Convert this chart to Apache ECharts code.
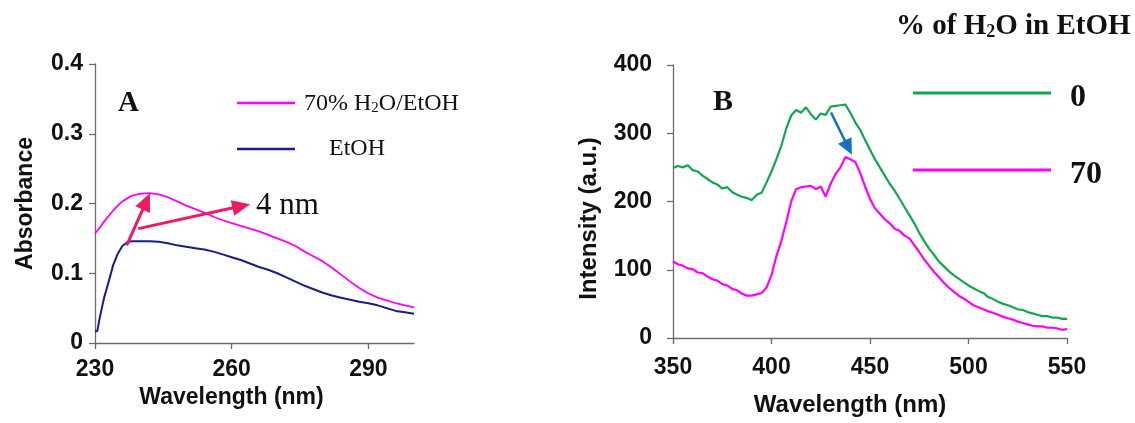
<!DOCTYPE html>
<html>
<head>
<meta charset="utf-8">
<script src="https://cdn.jsdelivr.net/npm/echarts@6/dist/echarts.min.js"></script>
<style>
html,body{margin:0;padding:0;background:#fff;}
#c{width:1135px;height:423px;}
</style>
</head>
<body>
<div id="c"></div>
<script>
// ---------- Panel A: absorbance ----------
const A_WL = [230,230.5,231,232,233,234,235,236,237,238,240,242,244,246,248,250,252,254,256,258,260,262,264,266,268,270,272,274,276,278,280,282,284,286,288,290,292,294,296,298,300];
const A_ETOH = [0.017,0.017,0.035,0.065,0.088,0.112,0.128,0.139,0.144,0.146,0.146,0.146,0.145,0.143,0.140,0.138,0.136,0.134,0.131,0.127,0.123,0.119,0.114,0.109,0.105,0.100,0.094,0.088,0.082,0.077,0.072,0.068,0.065,0.062,0.059,0.057,0.054,0.050,0.046,0.044,0.042];
const A_H2O70 = [0.157,0.161,0.165,0.174,0.182,0.190,0.197,0.203,0.207,0.211,0.214,0.215,0.213,0.209,0.203,0.197,0.192,0.187,0.181,0.176,0.172,0.168,0.164,0.160,0.155,0.150,0.145,0.139,0.131,0.124,0.117,0.108,0.098,0.088,0.079,0.071,0.065,0.061,0.057,0.054,0.051];
const A_X_TICKS = [230, 260, 290];
const A_Y_TICKS = [0, 0.1, 0.2, 0.3, 0.4];
// annotation arrows (data coordinates: start -> end)
const A_ARROWS = [[[236.95,0.140],[241.26,0.203]], [[239.5,0.164],[262.1,0.1963]]];

// ---------- Panel B: fluorescence ----------
const B_WL = [350,352.5,355,357.5,360,362.5,365,367.5,370,372.5,375,377.5,380,382.5,385,387.5,390,392.5,395,397.5,
400,402.5,405,407.5,410,412.5,415,417.5,420,422.5,425,427.5,430,432.5,435,437.5,440,442.5,445,447.5,
450,452.5,455,457.5,460,462.5,465,467.5,470,472.5,475,477.5,480,482.5,485,487.5,490,492.5,495,497.5,
500,502.5,505,507.5,510,512.5,515,517.5,520,522.5,525,527.5,530,532.5,535,537.5,540,542.5,545,547.5,550];
const B_H2O0 = [249,252,250,253,246,244,238,233,228,225,219,221,214,210,207,205,202,210,213,228,
244,262,282,307,326,334,330,338,328,320,329,327,339,340,341,342,330,316,305,290,
276,262,250,238,226,216,204,192,180,168,154,142,131,122,112,105,98,92,87,82,
77,73,69,66,60,57,53,50,48,45,42,41,38,36,34,32,32,30,30,28,28];
const B_H2O70 = [112,108,106,102,101,96,95,90,86,84,79,77,72,70,65,62,62,64,66,74,
92,120,142,170,200,218,221,222,223,218,222,207,226,240,250,265,262,258,242,222,
204,190,182,174,168,160,157,150,146,136,126,115,106,97,89,81,74,68,62,58,
53,48,45,42,39,37,34,31,29,27,24,22,20,18,17,17,15,15,14,12,13];
const B_X_TICKS = [350, 400, 450, 500, 550];
const B_Y_TICKS = [0, 100, 200, 300, 400];
const B_ARROW = [[430.2,330.3],[439.0,278.9]];

const SANS = 'Liberation Sans, Arial, sans-serif';
const SERIF = 'Liberation Serif, Times New Roman, serif';
const MAGENTA = '#ff00ff', NAVY = '#1b1b8a', GREEN = '#14a552', CRIMSON = '#ee1a62', BLUE = '#1570c2';

function pairs(xs, ys){ return xs.map((x,i)=>[x, ys[i]]); }

const chart = echarts.init(document.getElementById('c'), null, {renderer:'canvas'});

function axisCommon(){
  return {
    axisLine:{show:true, lineStyle:{color:'#6b6b6b', width:1.3}},
    axisTick:{show:true, inside:false, length:6, lineStyle:{color:'#6b6b6b', width:1.3}},
    splitLine:{show:false}
  };
}

const option = {
  animation:false,
  backgroundColor:'#fff',
  title:{
    text:'{a|% of H}{s|2}{a|O in EtOH}',
    left:896, top:11, padding:0,
    textStyle:{rich:{
      a:{fontFamily:SERIF, fontWeight:'bold', fontSize:29, color:'#111', lineHeight:30, verticalAlign:'bottom'},
      s:{fontFamily:SERIF, fontWeight:'bold', fontSize:18, color:'#111', lineHeight:14, verticalAlign:'bottom'}
    }}
  },
  grid:[
    {left:95, top:64, width:319, height:279},
    {left:673, top:65, width:394, height:273}
  ],
  xAxis:[
    Object.assign(axisCommon(), {gridIndex:0, type:'value', min:A_X_TICKS[0], max:300, interval:30,
      axisLabel:{showMaxLabel:false, margin:15, fontFamily:SANS, fontWeight:'bold', fontSize:23, color:'#111'},
      name:'Wavelength (nm)', nameLocation:'middle', nameGap:36,
      nameTextStyle:{fontFamily:SANS, fontWeight:'bold', fontSize:23, color:'#111', padding:[0,46,0,0]}}),
    Object.assign(axisCommon(), {gridIndex:1, type:'value', min:B_X_TICKS[0], max:B_X_TICKS[B_X_TICKS.length-1], interval:50,
      axisLabel:{margin:18, fontFamily:SANS, fontWeight:'bold', fontSize:23, color:'#111'},
      name:'Wavelength (nm)', nameLocation:'middle', nameGap:55,
      nameTextStyle:{fontFamily:SANS, fontWeight:'bold', fontSize:24, color:'#111', padding:[0,40,0,0]}})
  ],
  yAxis:[
    Object.assign(axisCommon(), {gridIndex:0, type:'value', min:A_Y_TICKS[0], max:A_Y_TICKS[A_Y_TICKS.length-1], interval:0.1,
      axisLabel:{margin:12, fontFamily:SANS, fontWeight:'bold', fontSize:23, color:'#111',
        formatter:v=> v===0 ? '0' : v.toFixed(1)},
      name:'Absorbance', nameLocation:'middle', nameGap:58,
      nameTextStyle:{fontFamily:SANS, fontWeight:'bold', fontSize:23, color:'#111'}}),
    Object.assign(axisCommon(), {gridIndex:1, type:'value', min:B_Y_TICKS[0], max:B_Y_TICKS[B_Y_TICKS.length-1], interval:100,
      axisLabel:{margin:21, fontFamily:SANS, fontWeight:'bold', fontSize:23, color:'#111'},
      name:'Intensity (a.u.)', nameLocation:'middle', nameGap:72,
      nameTextStyle:{fontFamily:SANS, fontWeight:'bold', fontSize:24, color:'#111', padding:[0,34,0,0]}})
  ],
  legend:[
    {
      data:['70% H2O/EtOH','EtOH'], orient:'vertical', left:237, top:92, padding:0,
      icon:'rect', itemWidth:58, itemHeight:2.5, itemGap:21, selectedMode:false,
      formatter:n => n==='EtOH' ? '{e|EtOH}' : '{p|70% H}{s|2}{n|O/EtOH}',
      textStyle:{color:'#111', rich:{
        p:{fontFamily:SERIF, fontSize:24, color:'#111', lineHeight:26, verticalAlign:'bottom', padding:[0,0,0,4]},
        n:{fontFamily:SERIF, fontSize:24, color:'#111', lineHeight:26, verticalAlign:'bottom'},
        s:{fontFamily:SERIF, fontSize:15, color:'#111', lineHeight:13, verticalAlign:'bottom'},
        e:{fontFamily:SERIF, fontSize:24, color:'#111', lineHeight:26, padding:[0,0,0,29]}
      }}
    },
    {
      data:['0','70'], orient:'vertical', left:913, top:72, padding:0,
      icon:'rect', itemWidth:138, itemHeight:3, itemGap:35, selectedMode:false,
      formatter:n => '{b|' + n + '}',
      textStyle:{color:'#111', rich:{
        b:{fontFamily:SERIF, fontWeight:'bold', fontSize:32, color:'#111', lineHeight:32, padding:[10,0,0,14]}
      }}
    }
  ],
  graphic:[
    {type:'text', left:118, top:89, style:{text:'A', font:'bold 29px '+SERIF, fill:'#111'}},
    {type:'text', left:713, top:87, style:{text:'B', font:'bold 30px '+SERIF, fill:'#111'}},
    {type:'text', left:256, top:190, style:{text:'4 nm', font:'31px '+SERIF, fill:'#111'}}
  ],
  series:[
    {name:'70% H2O/EtOH', type:'line', xAxisIndex:0, yAxisIndex:0, data:pairs(A_WL, A_H2O70),
      symbol:'none', showSymbol:false, color:MAGENTA, lineStyle:{color:MAGENTA, width:1.8}, z:3,
      markLine:{silent:true, animation:false, symbol:['none','triangle'], symbolSize:[16,18],
        lineStyle:{color:CRIMSON, width:3, type:'solid'}, label:{show:false},
        data:A_ARROWS.map(a=>[{coord:a[0]},{coord:a[1]}])}},
    {name:'EtOH', type:'line', xAxisIndex:0, yAxisIndex:0, data:pairs(A_WL, A_ETOH),
      symbol:'none', showSymbol:false, color:NAVY, lineStyle:{color:NAVY, width:2}, z:2},
    {name:'0', type:'line', xAxisIndex:1, yAxisIndex:1, data:pairs(B_WL, B_H2O0),
      symbol:'none', showSymbol:false, color:GREEN, lineStyle:{color:GREEN, width:2.2}, z:2,
      markLine:{silent:true, animation:false, symbol:['none','triangle'], symbolSize:[15,16],
        lineStyle:{color:BLUE, width:2.5, type:'solid'}, label:{show:false},
        data:[[{coord:B_ARROW[0]},{coord:B_ARROW[1]}]]}},
    {name:'70', type:'line', xAxisIndex:1, yAxisIndex:1, data:pairs(B_WL, B_H2O70),
      symbol:'none', showSymbol:false, color:MAGENTA, lineStyle:{color:MAGENTA, width:2.2}, z:3}
  ]
};
chart.setOption(option);
</script>
</body>
</html>
